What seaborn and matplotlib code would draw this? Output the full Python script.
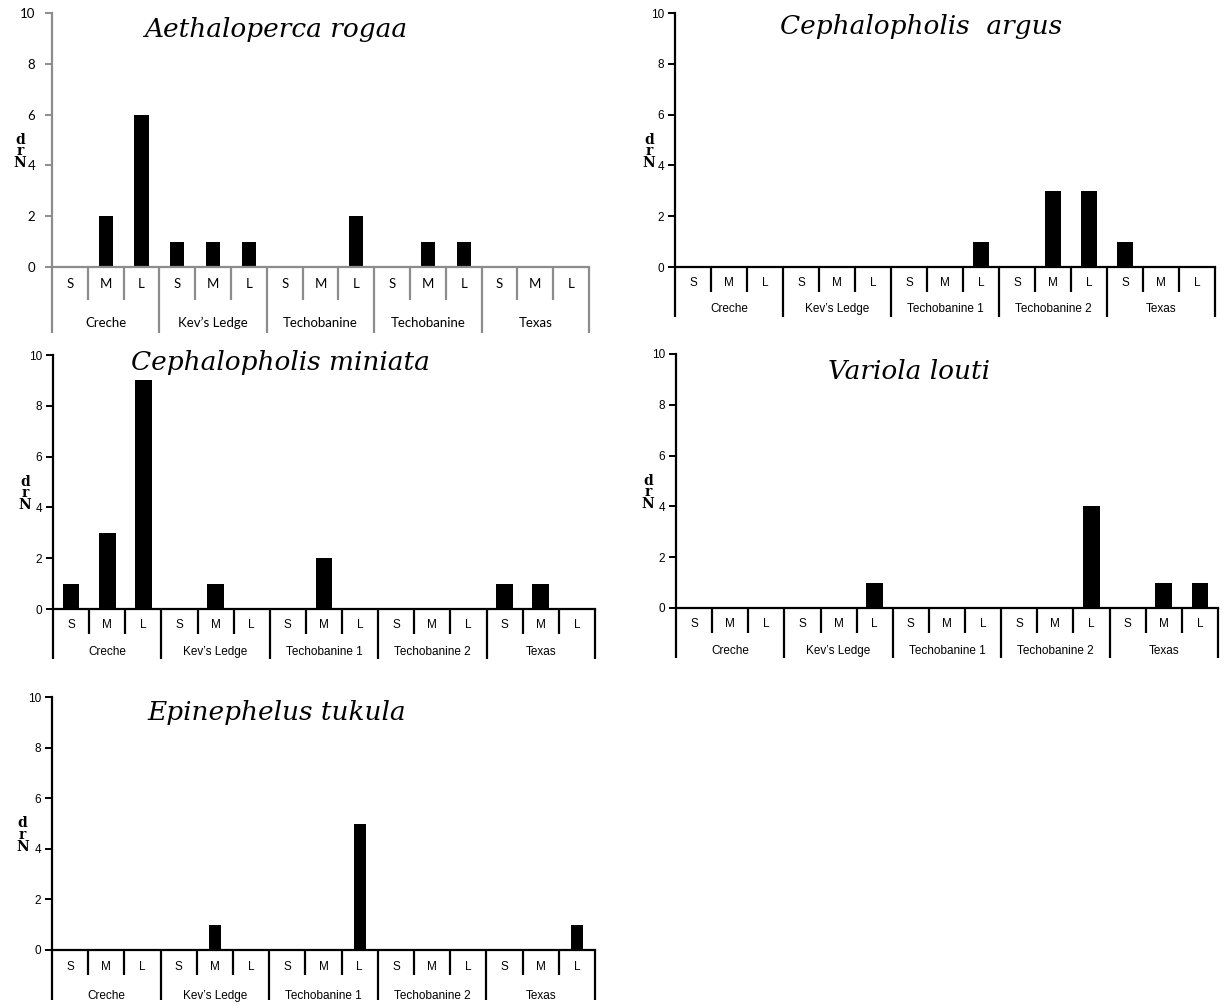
import matplotlib
matplotlib.use("Agg")
import matplotlib.pyplot as plt
import matplotlib.transforms as mtrans
import pandas as pd
import seaborn as sns

# ---- data -------------------------------------------------------------
sizes = ["S", "M", "L"]
sites_first = ["Creche", "Kev’s Ledge", "Techobanine", "Techobanine", "Texas"]
sites = ["Creche", "Kev’s Ledge", "Techobanine 1", "Techobanine 2", "Texas"]
yticks = [0, 2, 4, 6, 8, 10]

aethaloperca = [0, 2, 6, 1, 1, 1, 0, 0, 2, 0, 1, 1, 0, 0, 0]
argus = [0, 0, 0, 0, 0, 0, 0, 0, 1, 0, 3, 3, 1, 0, 0]
miniata = [1, 3, 9, 0, 1, 0, 0, 2, 0, 0, 0, 0, 1, 1, 0]
louti = [0, 0, 0, 0, 0, 1, 0, 0, 0, 0, 0, 4, 0, 1, 1]
tukula = [0, 0, 0, 0, 1, 0, 0, 0, 5, 0, 0, 0, 0, 0, 1]

sns.set_style("white")
plt.rcParams["text.color"] = "black"
plt.rcParams["ytick.labelcolor"] = "black"

W, H = 1228, 1006
fig = plt.figure(figsize=(W / 100, H / 100), dpi=100)


def px_axes(left, right, y0, y10):
    return fig.add_axes([left / W, 1 - y0 / H, (right - left) / W, (y0 - y10) / H])


def draw_panel(ax, values, title, site_names, title_xy, bar_w, line_color,
               font, fsize, pad, row1, row2, lab1, lab2, ylab_x):
    slots = [f"{g}{s}" for g in range(5) for s in sizes]
    df = pd.DataFrame({"slot": slots, "count": values})
    sns.barplot(data=df, x="slot", y="count", order=slots, color="black",
                saturation=1, width=bar_w, ax=ax, linewidth=0)
    ax.set_xlim(-0.5, 14.5)
    ax.set_ylim(0, 10)
    ax.set_yticks(yticks)
    ax.set_yticklabels([str(t) for t in yticks], family=font, fontsize=fsize,
                       color="black")
    ax.set_xticks([])
    ax.set_xlabel("")
    ax.set_ylabel("")
    for s in ["top", "right"]:
        ax.spines[s].set_visible(False)
    for s in ["left", "bottom"]:
        ax.spines[s].set_color(line_color)
        ax.spines[s].set_linewidth(1.6)
    ax.tick_params(axis="y", left=True, length=5, width=1.4, color=line_color, pad=pad)

    tr = mtrans.blended_transform_factory(ax.transData, ax.transAxes)
    h = ax.get_position().height * H
    # slot separators (short) and group separators (long)
    for b in range(16):
        x = b - 0.5
        depth = row2 if b % 3 == 0 else row1
        ax.plot([x, x], [0, -depth / h], color=line_color, lw=1.6,
                transform=tr, clip_on=False, solid_capstyle="butt")
    for i, lab in enumerate(sizes * 5):
        ax.text(i, -lab1 / h, lab, transform=tr, ha="center", va="center",
                family=font, fontsize=fsize)
    for g, name in enumerate(site_names):
        ax.text(g * 3 + 1, -lab2 / h, name, transform=tr, ha="center",
                va="center", family=font, fontsize=fsize)

    ax.text(title_xy[0], title_xy[1], title, transform=ax.transAxes,
            ha="center", va="center", family="DejaVu Serif", style="italic",
            fontsize=19, color="black")

    # stacked (garbled) y-axis label as in the source figure
    ax.text(ylab_x, 0.455, "d\nr\nN", transform=ax.transAxes, ha="center",
            va="center", family="DejaVu Serif", fontweight="bold",
            fontsize=10, linespacing=0.8, color="black")


gray = "#8c8c8c"
ax1 = px_axes(52, 589, 267, 13)
draw_panel(ax1, aethaloperca, "Aethaloperca rogaa", sites_first, (0.417, 0.935),
           0.4, gray, "Lato", 9.5, 7, 33, 66, 17, 56, -0.06)

ax2 = px_axes(675, 1215, 267, 13)
draw_panel(ax2, argus, "Cephalopholis  argus", sites, (0.455, 0.945),
           0.47, "black", "Liberation Sans", 8.5, 3, 25, 50, 16, 42, -0.048)

ax3 = px_axes(53, 595, 609, 355)
draw_panel(ax3, miniata, "Cephalopholis miniata", sites, (0.42, 0.97),
           0.46, "black", "Liberation Sans", 8.5, 3, 25, 50, 16, 43, -0.052)

ax4 = px_axes(676, 1218, 608, 354)
draw_panel(ax4, louti, "Variola louti", sites, (0.43, 0.93),
           0.46, "black", "Liberation Sans", 8.5, 3, 25, 50, 16, 43, -0.052)

ax5 = px_axes(52, 595, 950, 697)
draw_panel(ax5, tukula, "Epinephelus tukula", sites, (0.414, 0.94),
           0.33, "black", "Liberation Sans", 8.5, 3, 25, 50, 17, 46, -0.054)

fig.savefig("out.png", dpi=100, facecolor="white")
